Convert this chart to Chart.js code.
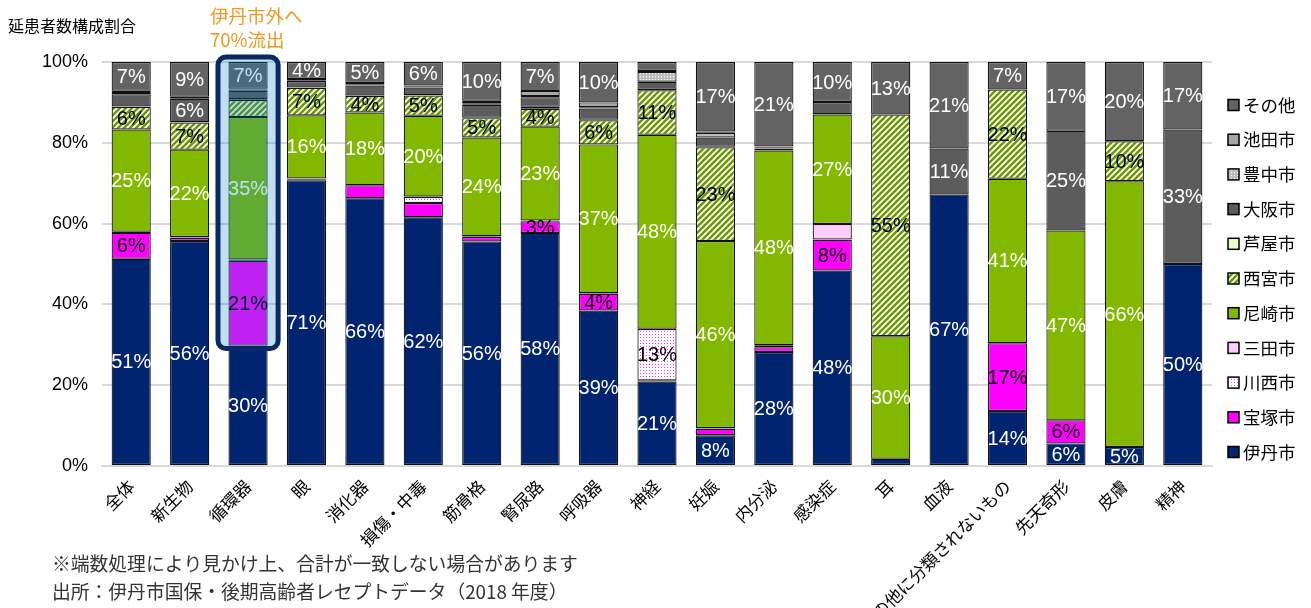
<!DOCTYPE html>
<html><head><meta charset="utf-8">
<script src="https://cdn.jsdelivr.net/npm/chart.js@4.4.1/dist/chart.umd.min.js"></script>
<style>html,body{margin:0;padding:0;background:#fff}#wrap{width:1311px;height:608px;position:relative}</style>
</head><body><div id="wrap"><canvas id="c" width="1311" height="608"></canvas></div>
<script>
// ---- data ----
const categories = ['全体','新生物','循環器','眼','消化器','損傷・中毒','筋骨格','腎尿路','呼吸器','神経','妊娠','内分泌','感染症','耳','血液','その他に分類されないもの','先天奇形','皮膚','精神'];
const seriesNames = ['伊丹市','宝塚市','川西市','三田市','尼崎市','西宮市','芦屋市','大阪市','豊中市','池田市','その他'];
const itami       = [51.3,55.7,29.8,70.7,66.3,61.6,55.6,57.7,38.5,20.9,7.6,28.2,48.4,1.8,67.2,13.6,5.6,4.7,50.0];
const takarazuka  = [6.4,0.8,21.0,0.3,3.2,3.5,1.1,2.9,4.1,0.3,1.6,1.2,7.6,0,0,16.8,5.7,0,0];
const kawanishi   = [0.2,0.1,0.2,0.1,0,1.5,0.1,0.1,0.1,12.7,0.1,0.3,0.1,0,0,0,0,0,0];
const sanda       = [0.1,0.1,0.1,0.1,0,0.1,0.1,0.1,0.1,0.1,0.1,0.2,3.8,0,0,0,0,0,0];
const amagasaki   = [25.3,21.6,35.3,15.6,18.0,20.0,24.4,23.2,36.8,48.0,46.3,48.2,27.1,30.3,0,40.7,47.0,65.8,0];
const nishinomiya = [5.6,6.7,4.2,6.8,4.1,5.0,4.8,4.4,6.0,11.0,23.2,0.4,0.1,54.9,0,22.1,0,9.9,0];
const ashiya      = [0.1,0.1,0.2,0.1,0.1,0.1,0.1,0.5,0.1,0.1,0.1,0.1,0,0,0,0,0,0,0];
const osaka       = [3.0,5.8,2.1,1.6,2.5,1.9,3.2,2.4,2.8,2.0,2.3,0.3,3.0,0,11.4,0,24.7,0,33.3];
const toyonaka    = [0.3,0.2,0.3,0.2,0.3,0.2,0.4,0.3,0.3,2.4,1.2,0.1,0,0,0,0,0,0,0];
const ikeda       = [0.6,0.3,0.2,0.3,0.3,0.3,0.6,1.2,1.2,0.3,0.3,0.1,0,0,0,0,0,0,0];
const others      = [7.1,8.6,6.6,4.2,5.2,5.8,9.6,7.2,10.0,2.2,17.2,20.9,9.9,13.0,21.4,6.8,17.0,19.6,16.7];
const seriesData = [itami,takarazuka,kawanishi,sanda,amagasaki,nishinomiya,ashiya,osaka,toyonaka,ikeda,others];
const yTicks = [0,20,40,60,80,100];
const labelThreshold = 3.9;
const labelHidden = [['循環器','西宮市']];
const labelForced = [['腎尿路','宝塚市']];
const highlightCategory = '循環器';
const annotationLines = ['伊丹市外へ','70%流出'];
const yTitle = '延患者数構成割合';
const footnotes = ['※端数処理により見かけ上、合計が一致しない場合があります','出所：伊丹市国保・後期高齢者レセプトデータ（2018 年度）'];

// ---- fills ----
function mk(w,h,fn){const c=document.createElement('canvas');c.width=w;c.height=h;const x=c.getContext('2d');fn(x);return x.createPattern(c,'repeat');}
const hatchGreen = mk(6,6,x=>{x.fillStyle='#fff';x.fillRect(0,0,6,6);x.strokeStyle='#6A9A00';x.lineWidth=2.5;x.beginPath();
  x.moveTo(-1,7);x.lineTo(7,-1);x.moveTo(-4,4);x.lineTo(4,-4);x.moveTo(2,10);x.lineTo(10,2);x.stroke();});
const dotPink = mk(3,3,x=>{x.fillStyle='#fff';x.fillRect(0,0,3,3);x.fillStyle='#FF33FF';x.fillRect(1,1,1,1);});
const dotGray = mk(3,3,x=>{x.fillStyle='#BDBDBD';x.fillRect(0,0,3,3);x.fillStyle='#fff';x.fillRect(1,1,1,1);});
const fills = ['#002470','#FF00FF',dotPink,'#FFCCFF','#82B900',hatchGreen,'#EBFFCC','#5C5C5C',dotGray,'#A6A6A6','#636363'];
const labelColors = ['#fff','#000','#000','#000','#fff','#000','#000','#fff','#000','#fff','#fff'];

const FONT = "'Liberation Sans','Noto Sans CJK JP',sans-serif";
const JFONT = "'Noto Sans CJK JP',sans-serif";

const deco = {
  id:'deco',
  afterDatasetsDraw(chart){
    const ctx=chart.ctx; ctx.save();
    ctx.font = "20px "+FONT; ctx.textAlign='center'; ctx.textBaseline='middle';
    chart.data.datasets.forEach((ds,i)=>{
      const meta=chart.getDatasetMeta(i);
      meta.data.forEach((el,j)=>{
        const v=ds.data[j]; const cat=categories[j], s=seriesNames[i];
        let show = v>=labelThreshold;
        if(labelHidden.some(p=>p[0]===cat&&p[1]===s)) show=false;
        if(labelForced.some(p=>p[0]===cat&&p[1]===s)) show=true;
        if(!show) return;
        const p=el.getProps(['x','y','base'],true);
        ctx.fillStyle=labelColors[i];
        ctx.fillText(Math.round(v)+'%', p.x, (p.y+p.base)/2+1);
      });
    });
    ctx.restore();
  },
  afterDraw(chart){
    const ctx=chart.ctx, ys=chart.scales.y;
    const idx=categories.indexOf(highlightCategory);
    const el=chart.getDatasetMeta(0).data[idx];
    const l=el.x-el.width/2-10.5, r=el.x+el.width/2+10.5;
    const t=ys.getPixelForValue(100)-5, b=ys.getPixelForValue(itami[idx])+3;
    ctx.save();
    ctx.beginPath(); ctx.roundRect(l,t,r-l,b-t,8);
    ctx.fillStyle='rgba(0,130,200,0.25)'; ctx.fill();
    ctx.lineWidth=5; ctx.strokeStyle='#0A2766'; ctx.stroke();
    ctx.font="18.5px "+JFONT; ctx.fillStyle='#F0961E'; ctx.textAlign='left'; ctx.textBaseline='middle';
    ctx.fillText(annotationLines[0],210,16); ctx.fillText(annotationLines[1],210,40);
    ctx.font="16px "+JFONT; ctx.fillStyle='#000';
    ctx.fillText(yTitle,8,26);
    ctx.font="18.8px "+JFONT; ctx.fillStyle='#333';
    ctx.fillText(footnotes[0],52,564); ctx.fillText(footnotes[1],52,592);
    ctx.font="17.5px "+JFONT;
    const n=chart.data.datasets.length;
    for(let k=0;k<n;k++){
      const ds=chart.data.datasets[n-1-k]; const y=105+k*34.7;
      ctx.fillStyle=ds.backgroundColor; ctx.fillRect(1228,y-5.5,11,11);
      ctx.lineWidth=1.5; ctx.strokeStyle='#000'; ctx.strokeRect(1228,y-5.5,11,11);
      ctx.fillStyle='#000'; ctx.fillText(ds.label,1243,y);
    }
    ctx.restore();
  }
};

new Chart(document.getElementById('c'),{
  type:'bar',
  data:{labels:categories, datasets:seriesNames.map((name,i)=>({
    label:name, data:seriesData[i], backgroundColor:fills[i], borderColor:'#111',
    borderWidth:c=>(c.raw>0?1.2:0), borderSkipped:false, barPercentage:0.67, categoryPercentage:1
  }))},
  options:{
    responsive:false, animation:false,
    layout:{padding:{top:62,right:99,left:0,bottom:0}},
    plugins:{legend:{display:false},tooltip:{enabled:false},title:{display:false}},
    scales:{
      x:{stacked:true, grid:{display:false,drawTicks:false}, border:{display:true,color:'#D9D9D9',width:2},
         ticks:{color:'#000',font:{size:17,family:JFONT},maxRotation:45,minRotation:45,autoSkip:false,padding:10},
         afterFit(s){s.height=142;}},
      y:{stacked:true,min:0,max:100,
         afterBuildTicks(s){s.ticks=yTicks.map(v=>({value:v}));},
         ticks:{callback:v=>v+'%',color:'#000',font:{size:18,family:FONT},padding:14},
         grid:{color:'#D9D9D9',lineWidth:2,drawTicks:false}, border:{display:false},
         afterFit(s){s.width=102;}}
    }
  },
  plugins:[deco]
});
</script></body></html>
